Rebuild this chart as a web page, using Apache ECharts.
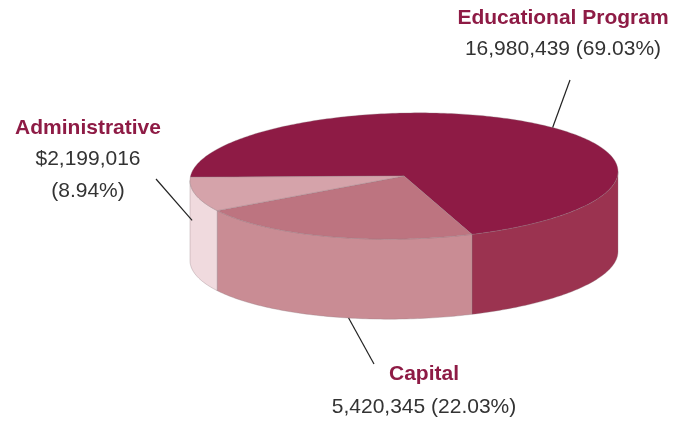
<!DOCTYPE html>
<html>
<head>
<meta charset="utf-8">
<script src="https://cdn.jsdelivr.net/npm/echarts@6/dist/echarts.min.js"></script>
<style>
html, body { margin: 0; padding: 0; background: #fff; }
#main { width: 686px; height: 421px; }
</style>
</head>
<body>
<div id="main"></div>
<script>
var names = ['Educational Program', 'Capital', 'Administrative'];
var values = [16980439, 5420345, 2199016];
var valueTexts = [['16,980,439 (69.03%)'], ['5,420,345 (22.03%)'], ['$2,199,016', '(8.94%)']];
var topColors = ['#8e1b45', '#bd7480', '#d5a3aa'];
var sideColors = ['#9b3350', '#c98c94', '#f0dade'];

// pie geometry (pixels)
var cx = 404, cy = 176, rx = 214, ry = 63, depth = 80, shear = 0.021;
var startAngle = 183;

// label layout: anchor angle on rim, anchor depth (0 top .. 1 bottom), line outer end, text centre, line gap
var labelLayout = [
    { t: -46, d: 0, lx: 570, ly: 80, tx: 563, ty: 18, gap: 31 },
    { t: 105, d: 1, lx: 374, ly: 364, tx: 424, ty: 374, gap: 33 },
    { t: 172, d: 0.39, lx: 156, ly: 179, tx: 88, ty: 128, gap: 31.5 }
];

var total = values.reduce(function (a, b) { return a + b; }, 0);

function rim(t, dy) {
    var r = t * Math.PI / 180;
    var x = cx + rx * Math.cos(r);
    var y = cy + ry * Math.sin(r) - shear * (x - cx) + (dy || 0);
    return [x, y];
}

function arc(a0, a1, dy) {
    var pts = [];
    var n = Math.max(2, Math.ceil(Math.abs(a1 - a0)));
    for (var i = 0; i <= n; i++) {
        pts.push(rim(a0 + (a1 - a0) * i / n, dy));
    }
    return pts;
}

function renderItem(params, api) {
    var idx = params.dataIndex;
    var before = 0;
    for (var i = 0; i < idx; i++) before += values[i];
    var a0 = startAngle + before / total * 360;
    var a1 = a0 + api.value(0) / total * 360;
    var children = [];
    var edge = { stroke: 'rgba(140,120,125,0.55)', lineWidth: 0.6 };

    // visible outer wall (front half, 0..180 deg)
    [-360, 0, 360].forEach(function (k) {
        var lo = Math.max(a0, k), hi = Math.min(a1, k + 180);
        if (hi > lo) {
            var pts = arc(lo, hi, 0).concat(arc(hi, lo, depth));
            children.push({
                type: 'polygon',
                shape: { points: pts },
                style: { fill: sideColors[idx], stroke: edge.stroke, lineWidth: edge.lineWidth }
            });
        }
    });

    // top face
    var top = [[cx, cy]].concat(arc(a0, a1, 0));
    children.push({
        type: 'polygon',
        shape: { points: top },
        style: { fill: topColors[idx], stroke: edge.stroke, lineWidth: edge.lineWidth }
    });

    // leader line and labels
    var lay = labelLayout[idx];
    var p = rim(lay.t, lay.d * depth);
    children.push({
        type: 'line',
        shape: { x1: p[0], y1: p[1], x2: lay.lx, y2: lay.ly },
        style: { stroke: '#222', lineWidth: 1.2 }
    });
    children.push({
        type: 'text',
        x: lay.tx, y: lay.ty,
        style: {
            text: names[idx], fill: '#8e1b45', font: 'bold 21px "Liberation Sans", Arial, sans-serif',
            align: 'center', verticalAlign: 'middle'
        }
    });
    valueTexts[idx].forEach(function (s, k) {
        children.push({
            type: 'text',
            x: lay.tx, y: lay.ty + lay.gap * (k + 1),
            style: {
                text: s, fill: '#333', font: '21px "Liberation Sans", Arial, sans-serif',
                align: 'center', verticalAlign: 'middle'
            }
        });
    });

    return { type: 'group', children: children };
}

var myChart = echarts.init(document.getElementById('main'));
var option = {
    backgroundColor: '#fff',
    animation: false,
    series: [{
        type: 'custom',
        coordinateSystem: 'none',
        renderItem: renderItem,
        data: values.map(function (v, i) { return { name: names[i], value: [v] }; })
    }]
};
myChart.setOption(option);
window.addEventListener('resize', function () {
    myChart.resize();
});
</script>
</body>
</html>
